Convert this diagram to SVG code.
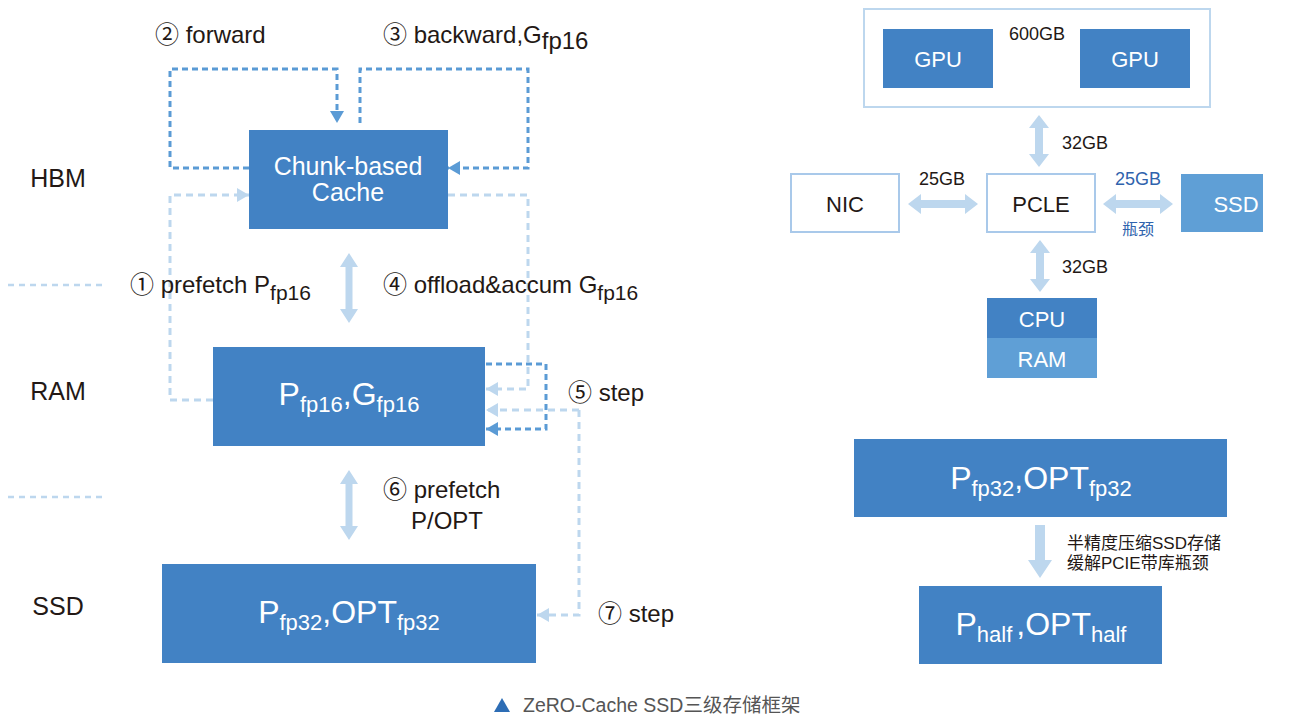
<svg xmlns="http://www.w3.org/2000/svg" width="1296" height="716" viewBox="0 0 1296 716">
<defs>
<style>
.box{fill:#4282c4}
.box2{fill:#5f9fd6}
.wbox{fill:#fff;stroke:#a9c9ea;stroke-width:2}
.t{font-family:"Liberation Sans","Noto Sans CJK SC",sans-serif;fill:#231815}
.w{font-family:"Liberation Sans","Noto Sans CJK SC",sans-serif;fill:#fff}
.dk{fill:none;stroke:#5b9bd5;stroke-width:3;stroke-dasharray:6 4}
.lt{fill:none;stroke:#bdd7ee;stroke-width:3;stroke-dasharray:7 5}
.div{fill:none;stroke:#bdd7ee;stroke-width:2.5;stroke-dasharray:6 5}
.fat{fill:#bdd7ee}
</style>
<marker id="ad" viewBox="0 0 12 14" refX="12" refY="7" markerWidth="12" markerHeight="14" markerUnits="userSpaceOnUse" orient="auto"><path d="M0,0 L12,7 L0,14 Z" fill="#5b9bd5"/></marker>
<marker id="al" viewBox="0 0 12 14" refX="12" refY="7" markerWidth="12" markerHeight="14" markerUnits="userSpaceOnUse" orient="auto"><path d="M0,0 L12,7 L0,14 Z" fill="#bdd7ee"/></marker>
</defs>

<!-- level labels -->
<g id="levels">
<text class="t" x="58" y="187" font-size="25" text-anchor="middle">HBM</text>
<text class="t" x="58" y="400" font-size="25" text-anchor="middle">RAM</text>
<text class="t" x="58" y="615" font-size="25" text-anchor="middle">SSD</text>
<line class="div" x1="8" y1="285" x2="107" y2="285"/>
<line class="div" x1="8" y1="497" x2="107" y2="497"/>
</g>

<g id="connectors">
<!-- forward -->
<path class="dk" d="M249,168 H170 V69 H337 V123" marker-end="url(#ad)"/>
<!-- backward -->
<path class="dk" d="M360,123 V69 H528 V168 H448" marker-end="url(#ad)"/>
<!-- prefetch P -->
<path class="lt" d="M213,400 H170 V195 H249" marker-end="url(#al)"/>
<!-- offload -->
<path class="lt" d="M448,195 H528 V389 H486" marker-end="url(#al)"/>
<!-- step loop -->
<path class="dk" d="M486,364 H546 V429 H486" marker-end="url(#ad)"/>
<!-- step 5 -->
<path class="lt" d="M579,410 H486" marker-end="url(#al)"/>
<!-- step 7 -->
<path class="lt" d="M579,410 V615 H537" marker-end="url(#al)"/>
<!-- fat arrows left -->
<polygon class="fat" points="349,253 358,267 352.5,267 352.5,309 358,309 349,323 340,309 345.5,309 345.5,267 340,267"/>
<polygon class="fat" points="349,470 358,484 352.5,484 352.5,526 358,526 349,540 340,526 345.5,526 345.5,484 340,484"/>
<!-- right fat arrows -->
<polygon class="fat" points="1000,59 1013,49 1013,55 1058,55 1058,49 1071,59 1058,69 1058,63 1013,63 1013,69"/>
<polygon class="fat" points="1039,115 1049,128 1043,128 1043,154 1049,154 1039,167 1029,154 1035,154 1035,128 1029,128"/>
<polygon class="fat" points="908,204 921,194 921,200 965,200 965,194 978,204 965,214 965,208 921,208 921,214"/>
<polygon class="fat" points="1103,204 1116,194 1116,200 1160,200 1160,194 1173,204 1160,214 1160,208 1116,208 1116,214"/>
<polygon class="fat" points="1040,240 1050,253 1044,253 1044,279 1050,279 1040,292 1030,279 1036,279 1036,253 1030,253"/>
<polygon class="fat" points="1035,525 1045,525 1045,560 1052,560 1040,578 1028,560 1035,560"/>
</g>

<!-- labels -->
<g id="labels">
<text class="t" x="155" y="43" font-size="24">② forward</text>
<text class="t" x="383" y="43" font-size="24">③ backward,G<tspan font-size="24" dy="6">fp16</tspan></text>
<text class="t" x="130" y="293" font-size="24">① prefetch P<tspan dy="7" font-size="21">fp16</tspan></text>
<text class="t" x="383" y="293" font-size="24">④ offload&amp;accum G<tspan dy="7" font-size="21">fp16</tspan></text>
<text class="t" x="568" y="401" font-size="24">⑤ step</text>
<text class="t" x="383" y="498" font-size="24">⑥ prefetch</text>
<text class="t" x="411" y="529" font-size="24">P/OPT</text>
<text class="t" x="598" y="622" font-size="24">⑦ step</text>
</g>

<g id="cache">
<rect class="box" x="249" y="130" width="199" height="99"/>
<text class="w" x="348" y="175" font-size="25" text-anchor="middle">Chunk-based</text>
<text class="w" x="348" y="201" font-size="25" text-anchor="middle">Cache</text>
</g>

<g id="ram-node">
<rect class="box" x="213" y="347" width="272" height="99"/>
<text class="w" x="349" y="405" font-size="32" text-anchor="middle">P<tspan font-size="22" dy="7">fp16</tspan><tspan dy="-7">,G</tspan><tspan font-size="22" dy="7">fp16</tspan></text>
</g>

<g id="ssd-node">
<rect class="box" x="162" y="564" width="374" height="99"/>
<text class="w" x="349" y="623" font-size="32" text-anchor="middle">P<tspan font-size="22" dy="7">fp32</tspan><tspan dy="-7">,OPT</tspan><tspan font-size="22" dy="7">fp32</tspan></text>
</g>

<!-- right side -->
<g id="gpu-frame">
<rect x="864" y="9" width="346" height="98" fill="#fff" stroke="#bdd7ee" stroke-width="2"/>
<text class="t" x="1037" y="40" font-size="18" text-anchor="middle">600GB</text>
</g>
<g id="gpu1">
<rect class="box" x="883" y="29" width="110" height="59"/>
<text class="w" x="938" y="67" font-size="22" text-anchor="middle">GPU</text>
</g>
<g id="gpu2">
<rect class="box" x="1080" y="29" width="110" height="59"/>
<text class="w" x="1135" y="67" font-size="22" text-anchor="middle">GPU</text>
</g>
<g id="nic">
<rect class="wbox" x="791" y="174" width="108" height="58"/>
<text class="t" x="845" y="212" font-size="22" text-anchor="middle">NIC</text>
</g>
<g id="pcle">
<rect class="wbox" x="987" y="174" width="108" height="58"/>
<text class="t" x="1041" y="212" font-size="22" text-anchor="middle">PCLE</text>
</g>
<g id="ssd-r">
<rect class="box2" x="1181" y="174" width="82" height="58"/>
<text class="w" x="1236" y="212" font-size="22" text-anchor="middle">SSD</text>
</g>
<g id="cpu">
<rect class="box" x="987" y="298" width="110" height="40"/>
<text class="w" x="1042" y="327" font-size="22" text-anchor="middle">CPU</text>
</g>
<g id="ram-r">
<rect class="box2" x="987" y="338" width="110" height="40"/>
<text class="w" x="1042" y="367" font-size="22" text-anchor="middle">RAM</text>
</g>
<g id="rlabels">
<text class="t" x="1062" y="149" font-size="18">32GB</text>
<text class="t" x="942" y="185" font-size="18" text-anchor="middle">25GB</text>
<text x="1138" y="185" font-size="18" text-anchor="middle" font-family="Liberation Sans,Noto Sans CJK SC,sans-serif" fill="#2f63ad">25GB</text>
<text x="1138" y="235" font-size="16" text-anchor="middle" font-family="Liberation Sans,Noto Sans CJK SC,sans-serif" fill="#2f63ad">瓶颈</text>
<text class="t" x="1062" y="273" font-size="18">32GB</text>
<text class="t" x="1067" y="549" font-size="17">半精度压缩SSD存储</text>
<text class="t" x="1067" y="569" font-size="17">缓解PCIE带库瓶颈</text>
</g>
<g id="fp32-r">
<rect class="box" x="854" y="439" width="373" height="78"/>
<text class="w" x="1041" y="489" font-size="32" text-anchor="middle">P<tspan font-size="22" dy="7">fp32</tspan><tspan dy="-7">,OPT</tspan><tspan font-size="22" dy="7">fp32</tspan></text>
</g>
<g id="half-r">
<rect class="box" x="919" y="586" width="243" height="78"/>
<text class="w" x="1041" y="635" font-size="32" text-anchor="middle">P<tspan font-size="22" dy="7">half</tspan><tspan dy="-7" dx="4">,OPT</tspan><tspan font-size="22" dy="7">half</tspan></text>
</g>

<g id="caption">
<polygon points="502,698 510,712 494,712" fill="#2d6db5"/>
<text x="523" y="712" font-size="19.5" font-family="Liberation Sans,Noto Sans CJK SC,sans-serif" fill="#555">ZeRO-Cache SSD三级存储框架</text>
</g>
</svg>
